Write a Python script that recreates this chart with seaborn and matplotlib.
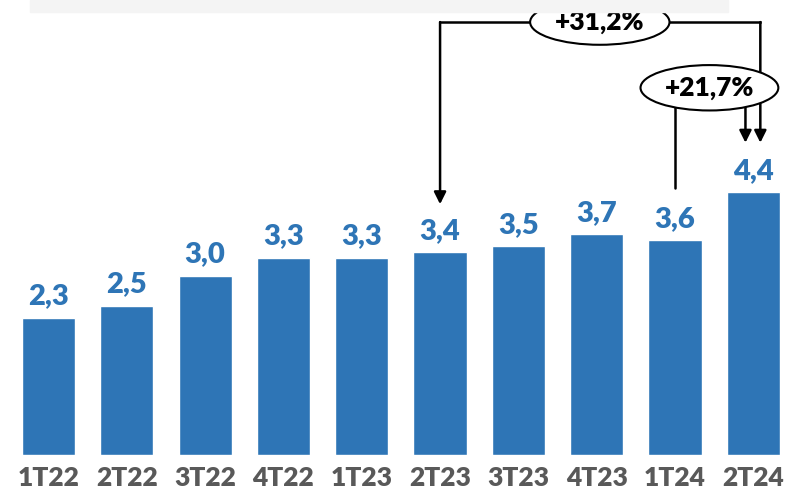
import matplotlib
matplotlib.use("Agg")
import matplotlib.pyplot as plt
from matplotlib.patches import Ellipse, Rectangle
import seaborn as sns

quarters = ['1T22', '2T22', '3T22', '4T22', '1T23', '2T23', '3T23', '4T23', '1T24', '2T24']
values = [2.3, 2.5, 3.0, 3.3, 3.3, 3.4, 3.5, 3.7, 3.6, 4.4]
growth_labels = ['+31,2%', '+21,7%']

BAR_COLOR = '#2E75B6'

sns.set_theme(style="white")
plt.rcParams['font.family'] = ['Lato', 'DejaVu Sans']

fig = plt.figure(figsize=(7.94, 4.98), dpi=100)
# light gray band on top
fig.patches.append(Rectangle((30 / 794, 1 - 12 / 498), 698 / 794, 12 / 498,
                             transform=fig.transFigure, color='#F4F4F4', zorder=0))
ax = fig.add_axes([0, 43 / 498, 1, 455 / 498])
ax.patch.set_alpha(0)

sns.barplot(x=quarters, y=values, color=BAR_COLOR, width=0.68, saturation=1, ax=ax)

for i, v in enumerate(values):
    ax.annotate(f"{v:.1f}".replace('.', ','), (i, v), xytext=(0, 6), textcoords='offset points',
                ha='center', va='bottom', fontsize=21, fontweight='heavy', color=BAR_COLOR)

ax.set_xlim(-0.62, 9.52)
ax.set_ylim(0, 7.62)
for s in ax.spines.values():
    s.set_visible(False)
ax.set_yticks([])
ax.set_xlabel('')
ax.tick_params(axis='x', length=0, pad=8, labelsize=19, labelcolor='#595959')
for lbl in ax.get_xticklabels():
    lbl.set_fontweight('heavy')

lw = 1.8
arrow = dict(arrowstyle='-|>', color='black', lw=lw, mutation_scale=18, shrinkA=0, shrinkB=0)

# +31,2% : 2T23 -> 2T24
i0, i1 = 5, 9
top_y = 7.25
x_right = i1 + 0.09
ax.plot([i0, x_right], [top_y, top_y], color='black', lw=lw, solid_capstyle='projecting')
ax.annotate('', xy=(i0, values[i0] + 0.8), xytext=(i0, top_y), arrowprops=arrow)
ax.annotate('', xy=(x_right, values[i1] + 0.83), xytext=(x_right, top_y), arrowprops=arrow)
ax.add_patch(Ellipse((7.04, top_y), 1.78, 0.76, facecolor='white', edgecolor='black', lw=1.5, zorder=5))
ax.text(7.04, top_y, growth_labels[0], ha='center', va='center', fontsize=19,
        fontweight='heavy', color='black', zorder=6)

# +21,7% : 1T24 -> 2T24
j0 = 8
mid_y = 6.15
x_r2 = i1 - 0.1
ax.plot([j0, j0], [values[j0] + 0.87, mid_y], color='black', lw=lw)
ax.annotate('', xy=(x_r2, values[i1] + 0.83), xytext=(x_r2, mid_y), arrowprops=arrow)
ax.add_patch(Ellipse((8.44, mid_y), 1.76, 0.76, facecolor='white', edgecolor='black', lw=1.5, zorder=5))
ax.text(8.44, mid_y, growth_labels[1], ha='center', va='center', fontsize=19,
        fontweight='heavy', color='black', zorder=6)

fig.savefig('out.png', dpi=100)
